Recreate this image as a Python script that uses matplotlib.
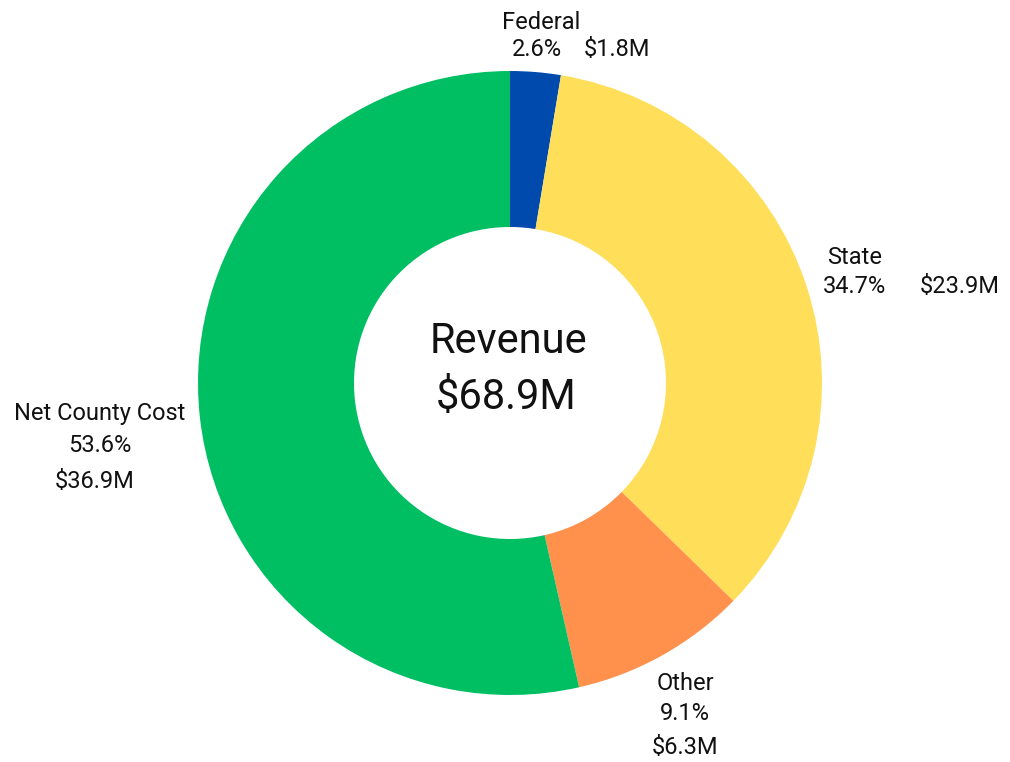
import matplotlib
matplotlib.use("Agg")
import matplotlib.pyplot as plt

categories = ["Federal", "State", "Other", "Net County Cost"]
values = [1.8, 23.9, 6.3, 36.9]
percents = ["2.6%", "34.7%", "9.1%", "53.6%"]
amounts = ["$1.8M", "$23.9M", "$6.3M", "$36.9M"]
colors = ["#004AAD", "#FFDE59", "#FF914D", "#00BF63"]
center_title = "Revenue"
center_total = "$68.9M"

plt.rcParams['font.family'] = ['Roboto', 'DejaVu Sans']

W, H, DPI = 1010, 762, 100
cx, cy, R = 510, 383, 312
fig = plt.figure(figsize=(W / DPI, H / DPI), dpi=DPI)
ax = fig.add_axes([0, 0, 1, 1])

ax.pie(values, colors=colors, startangle=90, counterclock=False, radius=1,
       wedgeprops=dict(width=0.5, edgecolor='none'))

ax.set_xlim(-cx / R, (W - cx) / R)
ax.set_ylim(-(H - cy) / R, cy / R)
ax.set_aspect('equal')
ax.axis('off')

def P(px, py):
    return ((px - cx) / R, (cy - py) / R)

fs = 17
def T(px, py, s, size=fs):
    x, y = P(px, py)
    ax.text(x, y, s, ha='center', va='center', fontsize=size, color='#111111')

# Federal
T(541, 22, categories[0])
T(537, 49, percents[0])
T(617, 49, amounts[0])
# State
T(855, 257, categories[1])
T(855, 286, percents[1])
T(960, 286, amounts[1])
# Other
T(685, 683, categories[2])
T(685, 713, percents[2])
T(685, 747, amounts[2])
# Net County Cost
T(100, 413, categories[3])
T(100, 445, percents[3])
T(95, 481, amounts[3])

# center
T(508, 341, center_title, 30)
T(506, 397, center_total, 30)

fig.savefig("out.png", dpi=DPI)
